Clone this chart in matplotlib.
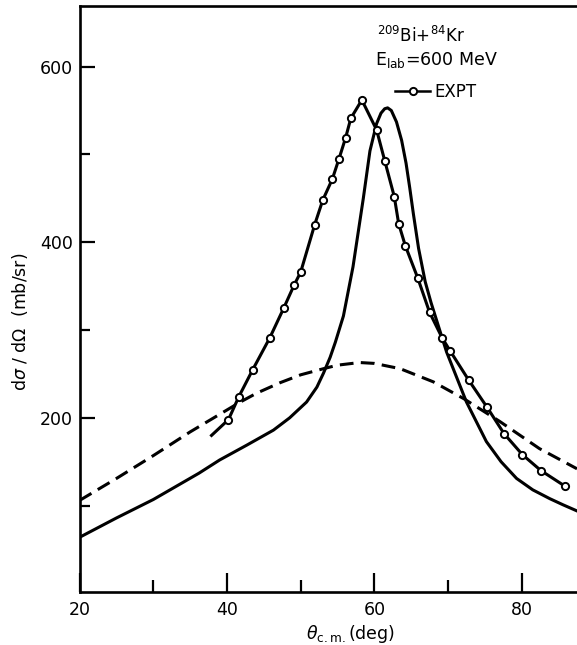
import matplotlib
matplotlib.use("Agg")
import matplotlib.pyplot as plt
from matplotlib.lines import Line2D

plt.rcParams["font.family"] = ["DejaVu Sans"]
plt.rcParams["mathtext.fontset"] = "dejavusans"

# Theory (solid), smooth reference calculation (dashed), experiment (open circles)
theory_x = [20, 25, 30, 36.2, 39.0, 42.7, 46.3, 48.5, 50.8, 52.2, 53.1, 54.0, 54.7,
            55.8, 57.1, 58.5, 59.4, 60.3, 60.9, 61.4, 61.8, 62.3, 63.0, 63.7, 64.3,
            64.8, 65.3, 66.0, 66.9, 67.7, 69.8, 72.5, 75.2, 77.2, 79.3, 81.5, 83.8,
            85.6, 87.5]
theory_y = [64, 86, 107, 137, 152, 169, 186, 200, 218, 235, 251, 269, 286,
            316, 372, 450, 504, 535, 547, 552, 553, 550, 537, 516, 490,
            462, 432, 393, 355, 331, 275, 218, 173, 150, 131, 118, 108,
            101, 94]

smooth_x = [20, 25, 30, 35, 38, 41.8, 44.0, 47.2, 50.0, 53.1, 55.0, 58.0, 60.0,
            63.5, 68.0, 72.1, 77.0, 82.4, 87.5]
smooth_y = [106, 131, 157, 184, 199, 218, 228, 240, 249, 256, 260, 263, 262,
            256, 241, 222, 196, 165, 142]

expt_start = (37.9, 180)
expt_x = [40.2, 41.6, 43.5, 45.8, 47.7, 49.1, 50.0, 51.9, 53.0, 54.3, 55.2, 56.1,
          56.8, 58.3, 60.3, 61.4, 62.7, 63.3, 64.2, 65.9, 67.5, 69.2, 70.3, 72.8,
          75.3, 77.6, 80.1, 82.6, 85.9]
expt_y = [198, 224, 255, 291, 325, 351, 366, 420, 448, 472, 495, 519,
          541, 562, 528, 493, 452, 421, 396, 359, 320, 291, 276, 243,
          212, 182, 158, 140, 122]

major_xticks = [20, 40, 60, 80]
minor_xticks = [30, 50, 70]
major_yticks = [200, 400, 600]
minor_yticks = [100, 300, 500]

LW = 2.2
fig = plt.figure(figsize=(5.77, 6.45), dpi=100)
ax = fig.add_axes([0.138, 0.0826, 0.862, 0.9081])

ax.plot(theory_x, theory_y, color="black", lw=LW, solid_joinstyle="round")
ax.plot(smooth_x, smooth_y, color="black", lw=LW, linestyle=(0, (4.5, 2.4)))
ax.plot([expt_start[0]] + expt_x, [expt_start[1]] + expt_y, color="black", lw=LW)
ax.plot(expt_x, expt_y, linestyle="none", marker="o", ms=5.2, mfc="white",
        mec="black", mew=1.4, zorder=5)

ax.set_xlim(20, 87.5)
ax.set_ylim(2, 669)

ax.set_xticks(major_xticks)
ax.set_xticks(minor_xticks, minor=True)
ax.set_yticks(major_yticks)
ax.set_yticks(minor_yticks, minor=True)
ax.tick_params(which="both", direction="in", width=1.6, labelsize=12.5, colors="black")
ax.tick_params(axis="y", which="major", length=11, pad=5)
ax.tick_params(axis="y", which="minor", length=7)
ax.tick_params(axis="x", which="major", length=14, pad=7)
ax.tick_params(axis="x", which="minor", length=9)

for side in ("left", "bottom", "top"):
    ax.spines[side].set_linewidth(1.9)
ax.spines["right"].set_visible(False)

fig.text(20 / 577, 1 - 322 / 645, r"d$\sigma$ / d$\Omega$  (mb/sr)", rotation=90,
         ha="center", va="center", fontsize=12.5)
fig.text(350 / 577, 1 - 634 / 645, r"$\theta_{\rm c.m.}$(deg)",
         ha="center", va="center", fontsize=12.5)

fig.text(465 / 577, 1 - 42 / 645, r"$^{209}$Bi+$^{84}$Kr", ha="right",
         va="baseline", fontsize=12)
fig.text(498 / 577, 1 - 65 / 645, r"E$_{\rm lab}$=600 MeV", ha="right",
         va="baseline", fontsize=12.5)

expt_handle = Line2D([], [], color="black", lw=1.8, marker="o", ms=5.2,
                     mfc="white", mec="black", mew=1.4)
ax.legend([expt_handle], ["EXPT"], loc="center left",
          bbox_to_anchor=(395 / 577, 1 - 92 / 645), bbox_transform=fig.transFigure,
          frameon=False, borderpad=0, borderaxespad=0, handlelength=2.1,
          handletextpad=0.25, numpoints=1, fontsize=12)

fig.savefig("out.png", dpi=100)
